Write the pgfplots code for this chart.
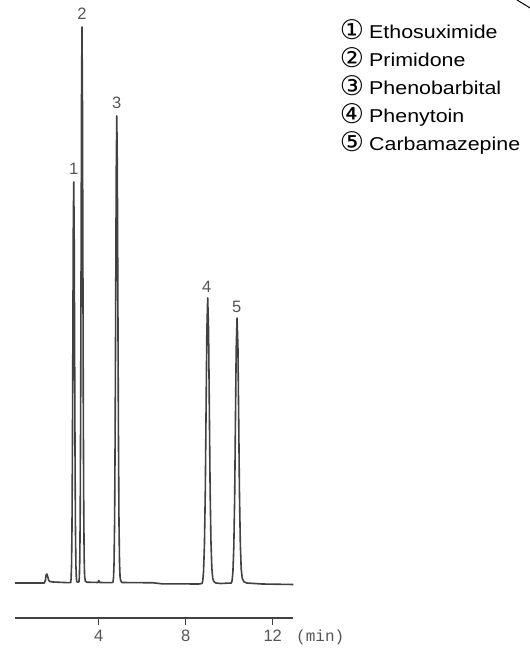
\documentclass[border=0pt]{standalone}
\usepackage{pgfplots}
\pgfplotsset{compat=1.18}
\usepackage{fontspec}
\setmainfont{Liberation Sans}
\newfontfamily\legfont[FakeStretch=1.15]{Liberation Sans}
\newfontfamily\circfont{DejaVu Sans}
\newfontfamily\unitfont{Liberation Mono}
\definecolor{trace}{RGB}{65,65,65}
\definecolor{lab}{RGB}{85,85,85}
\begin{document}
\begin{tikzpicture}[x=1pt,y=1pt]
\path[use as bounding box] (0,0) rectangle (530,648);
\begin{axis}[
  at={(15pt,30pt)}, anchor=south west,
  scale only axis, width=278.4pt, height=605pt,
  xmin=0.15, xmax=12.95, ymin=-35, ymax=570,
  axis x line=bottom, axis y line=none,
  x axis line style={-, line width=1.7pt, color=trace},
  xtick={4,8,12}, xticklabels={4,8,12},
  tick align=outside, major tick length=7pt,
  xtick style={line width=1.3pt, color=trace},
  xticklabel style={font=\fontsize{16.5}{16.5}\selectfont, text=lab, inner sep=0pt, yshift=-5pt},
  clip=false,
]
\addplot[trace, line width=1.6pt, line join=round, no marks] table[row sep=\\] {
x y\\
0.15 0\\
1.50 0\\
1.55 3\\
1.58 8\\
1.62 9\\
1.66 6\\
1.70 2.5\\
1.76 1.5\\
1.90 1\\
2.40 0.5\\
2.71 0.3\\
2.73 4.5\\
2.75 18\\
2.77 54\\
2.79 130\\
2.81 243\\
2.83 354\\
2.85 401\\
2.87 354\\
2.89 243\\
2.91 130\\
2.93 54\\
2.95 18\\
2.97 5\\
2.99 1.5\\
3.04 0.8\\
3.09 1.2\\
3.11 6\\
3.13 24\\
3.15 75\\
3.17 181\\
3.19 337\\
3.21 491\\
3.23 556\\
3.25 491\\
3.27 337\\
3.29 181\\
3.31 75\\
3.33 25\\
3.35 7\\
3.38 2\\
3.45 0.8\\
3.96 0.5\\
4.00 2.5\\
4.04 0.5\\
4.60 0.3\\
4.655 1\\
4.68 5.2\\
4.705 20.5\\
4.73 63\\
4.755 152\\
4.78 283\\
4.805 412\\
4.83 467\\
4.855 412\\
4.88 283\\
4.905 152\\
4.93 63\\
4.955 21\\
4.98 6.5\\
5.01 2\\
5.07 0.5\\
6.5 0.2\\
6.9 -0.8\\
8.6 -1\\
8.75 -0.5\\
8.785 2.5\\
8.82 12\\
8.86 38.6\\
8.90 92.5\\
8.935 173\\
8.97 251.5\\
9.01 285\\
9.05 252\\
9.085 175\\
9.12 95\\
9.16 41\\
9.20 15\\
9.24 5\\
9.29 1.5\\
9.38 0\\
9.6 -0.5\\
10.10 0\\
10.135 2.9\\
10.17 11.6\\
10.21 35.9\\
10.25 86\\
10.285 161\\
10.32 234\\
10.36 265\\
10.40 236\\
10.435 164\\
10.47 90\\
10.51 39\\
10.55 14\\
10.60 4.5\\
10.68 1.2\\
10.80 0\\
11.5 -1\\
12.95 -1.5\\
};
\node[font=\fontsize{16.5}{16.5}\selectfont, text=lab] at (axis cs:2.85,414) {1};
\node[font=\fontsize{16.5}{16.5}\selectfont, text=lab] at (axis cs:3.23,569) {2};
\node[font=\fontsize{16.5}{16.5}\selectfont, text=lab] at (axis cs:4.83,480) {3};
\node[font=\fontsize{16.5}{16.5}\selectfont, text=lab] at (axis cs:8.97,296) {4};
\node[font=\fontsize{16.5}{16.5}\selectfont, text=lab] at (axis cs:10.34,276) {5};
\end{axis}
\node[font=\unitfont\fontsize{16}{16}\selectfont, text=lab, anchor=west, inner sep=0pt] at (296,11) {(min)};
% legend
\foreach \c/\t/\b in {①/Ethosuximide/609, ②/Primidone/581, ③/Phenobarbital/553, ④/Phenytoin/525, ⑤/Carbamazepine/497}{
  \node[font=\circfont\fontsize{27}{27}\selectfont, anchor=base, inner sep=0pt] at (352,\b-1) {\c};
  \node[font=\legfont\fontsize{18.6}{18.6}\selectfont, anchor=base west, inner sep=0pt] at (369,\b) {\t};
}
\draw[line width=1pt] (517,648) .. controls (522,645) and (527,642) .. (530,640);
\end{tikzpicture}
\end{document}
